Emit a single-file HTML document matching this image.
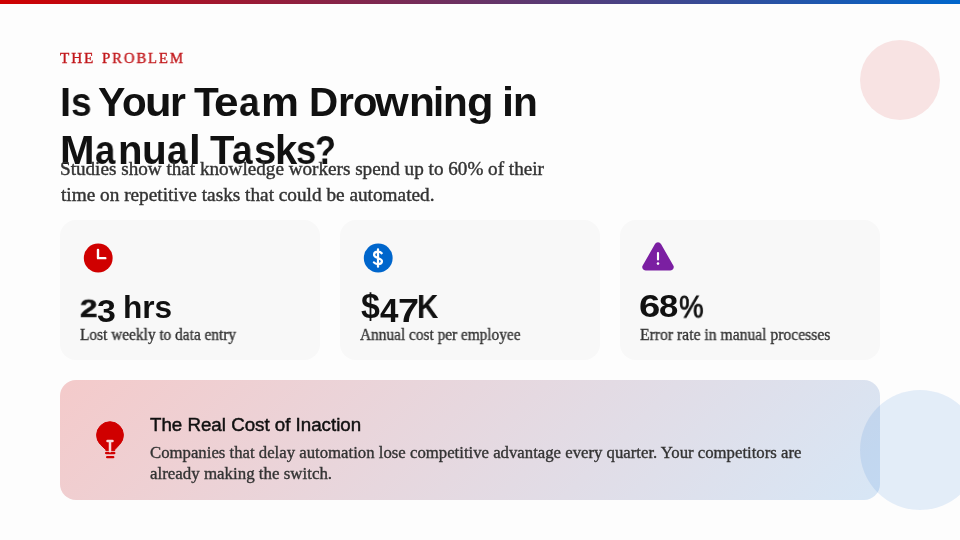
<!DOCTYPE html>
<html lang="en">
<head>
<meta charset="utf-8">
<title>The Problem</title>
<style>
*{margin:0;padding:0;box-sizing:border-box}
html,body{width:960px;height:540px;overflow:hidden;background:#fdfdfd}
h1,h3,p,header,section{font:inherit;display:block}
body{position:relative;font-family:"Liberation Serif",serif;color:#333}
.abs{display:block;position:absolute;white-space:nowrap;will-change:transform;transform-origin:0 0}
.bar{position:absolute;left:0;top:0;width:960px;height:4px;background:linear-gradient(90deg,#d00000,#0066cc)}
.c1{position:absolute;left:860px;top:40px;width:80px;height:80px;border-radius:50%;background:rgba(208,0,0,.1)}
.c2{position:absolute;left:860px;top:390px;width:120px;height:120px;border-radius:50%;background:rgba(0,102,204,.1)}
.label{font-size:15px;line-height:18px;color:#c2181c;letter-spacing:1.9px;-webkit-text-stroke:.38px #c2181c}
.h1{font-family:"Liberation Sans",sans-serif;font-weight:bold;font-size:40px;line-height:48px;color:#111}
.p{font-size:19px;line-height:26px;color:#333;-webkit-text-stroke:.4px #333}
.card{position:absolute;top:220px;width:260px;height:140px;border-radius:16px;background:#f8f8f8}
.stat{font-family:"Liberation Sans",sans-serif;font-weight:bold;font-size:31px;line-height:36px;color:#111}
.sl{font-size:16px;line-height:20px;color:#333;-webkit-text-stroke:.35px #333}
.callout{position:absolute;left:60px;top:380px;width:820px;height:120px;border-radius:16px;background:linear-gradient(135deg,rgba(208,0,0,.2),rgba(0,102,204,.15))}
.ct{font-family:"Liberation Sans",sans-serif;font-size:18px;line-height:24px;color:#111;-webkit-text-stroke:.45px #111}
.cb{font-size:16.5px;line-height:21px;color:#333;-webkit-text-stroke:.35px #333}
svg{position:absolute;display:block}
</style>
</head>
<body>
<div class="bar"></div>
<div class="c1"></div>
<div class="card" style="left:60px"></div>
<div class="card" style="left:340px"></div>
<div class="card" style="left:620px"></div>
<svg style="left:80px;top:240px" width="36" height="36" viewBox="0 0 256 256"><circle cx="129.500" cy="128" r="102.500" fill="#d00000"/><path d="M128,70V129H180" fill="none" stroke="#fff" stroke-width="17" stroke-linecap="round" stroke-linejoin="round"/></svg>
<svg style="left:360px;top:240px" width="36" height="36" viewBox="0 0 256 256"><circle cx="129.500" cy="128" r="102.500" fill="#0066cc"/><path d="M154,94C148,86,138,83,128,83C112,83,100,91,100,104C100,118,114,123,128,128C142,133,156,138,156,151C156,164,144,171,128,171C116,171,105,167,99,159M128,66V190" fill="none" stroke="#fff" stroke-width="16" stroke-linecap="round" stroke-linejoin="round"/></svg>
<svg style="left:640px;top:238.800px" width="36" height="36" viewBox="0 0 256 256"><path fill="#7b1fa2" d="M236.800,188.090,149.350,36.220h0a24.760,24.760,0,0,0-42.700,0L19.200,188.090a23.510,23.510,0,0,0,0,23.720A24.350,24.350,0,0,0,40.550,224h174.900a24.350,24.350,0,0,0,21.330-12.190A23.510,23.510,0,0,0,236.800,188.090Z"/><path d="M128,100V146" stroke="#fff" stroke-width="15" stroke-linecap="round" fill="none"/><circle cx="128" cy="175" r="9" fill="#fff"/></svg>
<header>
<span class="abs label" style="left:60.01px;top:49.00px;transform:scale(1.0123,1.0000);">THE</span>
<span class="abs label" style="left:101.94px;top:49.00px;transform:scale(0.9841,1.0000);">PROBLEM</span>
</header>
<h1>
<span class="abs h1" style="left:60.37px;top:78.00px;transform:scale(0.9741,1.0000);">I</span>
<span class="abs h1" style="left:70.87px;top:78.00px;transform:scale(0.9266,1.0000);">s</span>
<span class="abs h1" style="left:98.43px;top:78.00px;transform:scale(1.0277,1.0000);">Y</span>
<span class="abs h1" style="left:121.51px;top:78.00px;transform:scale(1.0093,1.0000);">o</span>
<span class="abs h1" style="left:144.89px;top:78.00px;transform:scale(1.0857,1.0000);">u</span>
<span class="abs h1" style="left:170.45px;top:78.00px;transform:scale(1.0204,1.0000);">r</span>
<span class="abs h1" style="left:193.56px;top:78.00px;transform:scale(1.0149,1.0000);">T</span>
<span class="abs h1" style="left:214.10px;top:78.00px;transform:scale(1.1027,1.0000);">e</span>
<span class="abs h1" style="left:238.61px;top:78.00px;transform:scale(0.9296,1.0000);">a</span>
<span class="abs h1" style="left:261.25px;top:78.00px;transform:scale(1.0662,1.0000);">m</span>
<span class="abs h1" style="left:308.84px;top:78.00px;transform:scale(1.0102,1.0000);">D</span>
<span class="abs h1" style="left:337.95px;top:78.00px;transform:scale(1.0204,1.0000);">r</span>
<span class="abs h1" style="left:353.00px;top:78.00px;transform:scale(0.9954,1.0000);">o</span>
<span class="abs h1" style="left:375.04px;top:78.00px;transform:scale(1.0832,1.0000);">w</span>
<span class="abs h1" style="left:409.29px;top:78.00px;transform:scale(1.0598,1.0000);">n</span>
<span class="abs h1" style="left:433.22px;top:78.00px;transform:scale(0.9642,1.0000);">i</span>
<span class="abs h1" style="left:442.98px;top:78.00px;transform:scale(1.0104,1.0000);">n</span>
<span class="abs h1" style="left:467.36px;top:78.00px;transform:scale(1.0851,1.0000);">g</span>
<span class="abs h1" style="left:501.56px;top:78.00px;transform:scale(1.0824,1.0000);">i</span>
<span class="abs h1" style="left:513.01px;top:78.00px;transform:scale(1.0156,1.0000);">n</span>
<span class="abs h1" style="left:60.20px;top:126.00px;transform:scale(1.0375,1.0000);">M</span>
<span class="abs h1" style="left:94.57px;top:126.00px;transform:scale(0.9154,1.0000);">a</span>
<span class="abs h1" style="left:118.08px;top:126.00px;transform:scale(1.0026,1.0000);">n</span>
<span class="abs h1" style="left:141.94px;top:126.00px;transform:scale(1.0130,1.0000);">u</span>
<span class="abs h1" style="left:167.34px;top:126.00px;transform:scale(0.9296,1.0000);">a</span>
<span class="abs h1" style="left:189.43px;top:126.00px;transform:scale(1.0551,1.0000);">l</span>
<span class="abs h1" style="left:209.54px;top:126.00px;">T</span>
<span class="abs h1" style="left:231.90px;top:126.00px;transform:scale(0.9296,1.0000);">a</span>
<span class="abs h1" style="left:253.83px;top:126.00px;transform:scale(0.9817,1.0000);">s</span>
<span class="abs h1" style="left:275.05px;top:126.00px;transform:scale(0.9975,1.0000);">k</span>
<span class="abs h1" style="left:296.31px;top:126.00px;transform:scale(0.9081,1.0000);">s</span>
<span class="abs h1" style="left:314.83px;top:126.00px;transform:scale(0.8519,1.0000);">?</span>
</h1>
<p>
<span class="abs p" style="left:59.98px;top:155.75px;transform:scale(1.0078,1.0000);">Studies show that knowledge workers spend up to 60% of their</span>
<span class="abs p" style="left:60.93px;top:181.75px;transform:scale(1.0142,1.0000);">time on repetitive tasks that could be automated.</span>
</p>
<section>
<span class="abs stat" style="left:79.81px;top:291.31px;transform:scale(1.2552,0.9583);font-size:25px;-webkit-text-stroke:.5px #111;">2</span>
<span class="abs stat" style="left:97.09px;top:293.93px;transform:scale(1.0936,1.0112);">3</span>
<span class="abs stat" style="left:122.75px;top:289.50px;transform:scale(1.0201,1.0000);">hrs</span>
</section>
<section>
<span class="abs stat" style="left:360.78px;top:285.76px;transform:scale(1.0923,1.1545);">$</span>
<span class="abs stat" style="left:379.84px;top:291.60px;transform:scale(1.0698,1.0588);">4</span>
<span class="abs stat" style="left:397.90px;top:291.60px;transform:scale(1.2203,1.0588);">7</span>
<span class="abs stat" style="left:417.24px;top:287.89px;transform:scale(0.9525,1.0683);">K</span>
</section>
<section>
<span class="abs stat" style="left:639.33px;top:288.56px;transform:scale(1.2340,1.0137);">6</span>
<span class="abs stat" style="left:659.23px;top:288.56px;transform:scale(1.1181,1.0137);">8</span>
<span class="abs stat" style="left:679.22px;top:289.53px;transform:scale(0.8925,0.9800);font-weight:normal;-webkit-text-stroke:.8px #111;">%</span>
</section>
<section>
<span class="abs sl" style="left:80.21px;top:325.41px;transform:scale(0.9600,1.0000);">Lost weekly to data entry</span>
<span class="abs sl" style="left:360.27px;top:325.41px;transform:scale(0.9584,1.0000);">Annual cost per employee</span>
<span class="abs sl" style="left:640.33px;top:325.41px;transform:scale(0.9786,1.0000);">Error rate in manual processes</span>
</section>
<div class="callout"></div>
<div class="c2"></div>
<svg style="left:90px;top:415px" width="40" height="50" viewBox="90 415 40 50"><path fill="#d00000" stroke="#d00000" stroke-width="1" stroke-linejoin="round" d="M105.900,450.700V449.800L100.500,444.600A13.400,13.400,0,1,1,119.500,444.600L114.700,449.800V450.700Z"/><path d="M106,453.100H114.400M107.100,457.200H113.300" stroke="#d00000" stroke-width="2.200" stroke-linecap="round" fill="none"/><path d="M107.500,441.100H112.500M110,441.100V451.300" stroke="#f7d9da" stroke-width="2.500" stroke-linecap="round" fill="none"/></svg>
<h3>
<span class="abs ct" style="left:149.84px;top:412.75px;transform:scale(1.0396,1.0000);">The Real Cost of Inaction</span>
</h3>
<p>
<span class="abs cb" style="left:150.10px;top:442.25px;transform:scale(1.0148,1.0000);">Companies that delay automation lose competitive advantage every quarter. Your competitors are</span>
<span class="abs cb" style="left:150.12px;top:462.60px;transform:scale(1.0241,1.0000);">already making the switch.</span>
</p>
</body>
</html>
